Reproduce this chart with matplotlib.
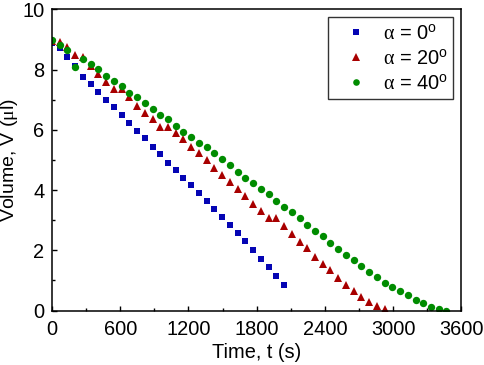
import numpy as np
import matplotlib
matplotlib.use("Agg")
import matplotlib.pyplot as plt
from matplotlib.ticker import MultipleLocator

plt.rcParams["font.family"] = ["Liberation Sans", "DejaVu Sans"]
plt.rcParams["mathtext.fontset"] = "custom"
plt.rcParams["mathtext.rm"] = "Liberation Serif"
plt.rcParams["mathtext.sf"] = "Liberation Sans"

# time grid shared by the three runs (s)
t_0deg = [0, 68, 136, 204, 272, 340, 408, 476, 544, 612, 680, 748, 816, 884, 952,
          1020, 1088, 1156, 1224, 1292, 1360, 1428, 1496, 1564, 1632, 1700, 1768,
          1836, 1904, 1972, 2040]
v_0deg = [8.87, 8.72, 8.43, 8.12, 7.76, 7.52, 7.25, 6.99, 6.75, 6.50, 6.24, 5.97,
          5.72, 5.42, 5.18, 4.91, 4.67, 4.41, 4.17, 3.89, 3.64, 3.38, 3.10, 2.83,
          2.56, 2.30, 2.01, 1.72, 1.44, 1.16, 0.86]

t_20deg = [0, 68, 136, 204, 272, 340, 408, 476, 544, 612, 680, 748, 816, 884, 952,
           1020, 1088, 1156, 1224, 1292, 1360, 1428, 1496, 1564, 1632, 1700, 1768,
           1836, 1904, 1972, 2040, 2108, 2176, 2244, 2312, 2380, 2448, 2516, 2584,
           2652, 2720, 2788, 2856, 2924]
v_20deg = [8.95, 8.92, 8.76, 8.48, 8.41, 8.13, 7.85, 7.60, 7.34, 7.34, 7.08, 6.79,
           6.57, 6.35, 6.08, 6.10, 5.90, 5.68, 5.44, 5.22, 5.00, 4.73, 4.51, 4.27,
           4.02, 3.79, 3.55, 3.31, 3.06, 3.08, 2.81, 2.53, 2.28, 2.07, 1.78, 1.56,
           1.33, 1.09, 0.86, 0.64, 0.46, 0.28, 0.14, 0.05]

t_40deg = [0, 68, 136, 204, 272, 340, 408, 476, 544, 612, 680, 748, 816, 884, 952,
           1020, 1088, 1156, 1224, 1292, 1360, 1428, 1496, 1564, 1632, 1700, 1768,
           1836, 1904, 1972, 2040, 2108, 2176, 2244, 2312, 2380, 2448, 2516, 2584,
           2652, 2720, 2788, 2856, 2924, 2992, 3060, 3128, 3196, 3264, 3332, 3400,
           3468]
v_40deg = [8.98, 8.81, 8.65, 8.09, 8.34, 8.17, 8.02, 7.80, 7.62, 7.45, 7.23, 7.08,
           6.90, 6.69, 6.49, 6.35, 6.14, 5.94, 5.77, 5.57, 5.44, 5.22, 5.03, 4.83,
           4.61, 4.41, 4.22, 4.02, 3.86, 3.65, 3.45, 3.26, 3.06, 2.84, 2.65, 2.49,
           2.23, 2.04, 1.85, 1.68, 1.48, 1.29, 1.10, 0.92, 0.77, 0.64, 0.50, 0.36,
           0.24, 0.13, 0.04, -0.02]

labels = [r"$\mathrm{\alpha}$ = 0$^{\mathsf{o}}$",
          r"$\mathrm{\alpha}$ = 20$^{\mathsf{o}}$",
          r"$\mathrm{\alpha}$ = 40$^{\mathsf{o}}$"]

fig = plt.figure(figsize=(4.84, 3.65), dpi=100)
ax = fig.add_axes([0.1074, 0.1493, 0.8461, 0.8252])

ax.plot(t_0deg, v_0deg, "s", color="#0505b4", markersize=4.3, markeredgewidth=0, label=labels[0])
ax.plot(t_20deg, v_20deg, "^", color="#a80000", markersize=6.0, markeredgewidth=0, label=labels[1])
ax.plot(t_40deg, v_40deg, "o", color="#008c00", markersize=5.3, markeredgewidth=0, label=labels[2])

ax.set_xlim(0, 3600)
ax.set_ylim(0, 10)
ax.xaxis.set_major_locator(MultipleLocator(600))
ax.xaxis.set_minor_locator(MultipleLocator(300))
ax.yaxis.set_major_locator(MultipleLocator(2))
ax.yaxis.set_minor_locator(MultipleLocator(1))
ax.tick_params(which="both", direction="in", top=False, right=False, labelsize=14.4, width=1.0)
ax.tick_params(which="major", length=3.5)
ax.tick_params(which="minor", length=2.0)
ax.tick_params(axis="x", which="major", pad=6.5)
ax.tick_params(axis="y", which="major", pad=5.5)
for s in ax.spines.values():
    s.set_linewidth(1.1)

ax.set_xlabel("Time, t (s)", fontsize=14.4, labelpad=3)
ax.set_ylabel(r"Volume, V ($\mathrm{\mu}$l)", fontsize=14, va="center")
ax.yaxis.set_label_coords(-0.103, 0.5)

leg = ax.legend(loc="upper right", fontsize=14.4, frameon=True, fancybox=False,
                edgecolor="black", borderaxespad=0.4, handletextpad=0.25,
                handlelength=2.2, labelspacing=0.25, markerscale=0.9,
                borderpad=0.3)
leg.get_frame().set_linewidth(1.0)

plt.savefig("out.png", dpi=100)
